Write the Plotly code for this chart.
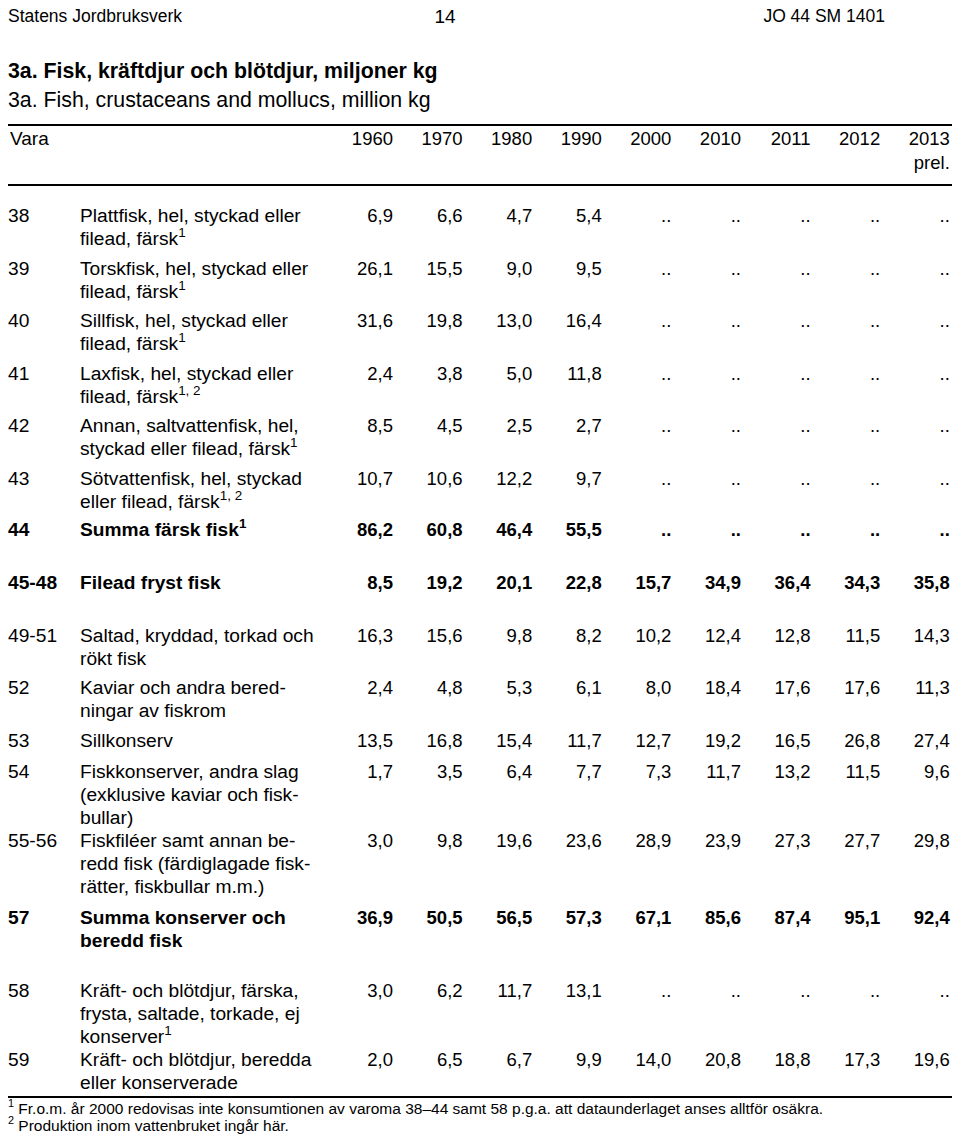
import plotly.graph_objects as go

# ---- data --------------------------------------------------------------
years = ["1960", "1970", "1980", "1990", "2000", "2010", "2011", "2012", "2013"]
prel_year = "2013"

codes = ["38", "39", "40", "41", "42", "43", "44", "45-48", "49-51",
         "52", "53", "54", "55-56", "57", "58", "59"]

labels = [
    "Plattfisk, hel, styckad eller<br>filead, färsk<sup>1</sup>",
    "Torskfisk, hel, styckad eller<br>filead, färsk<sup>1</sup>",
    "Sillfisk, hel, styckad eller<br>filead, färsk<sup>1</sup>",
    "Laxfisk, hel, styckad eller<br>filead, färsk<sup>1, 2</sup>",
    "Annan, saltvattenfisk, hel,<br>styckad eller filead, färsk<sup>1</sup>",
    "Sötvattenfisk, hel, styckad<br>eller filead, färsk<sup>1, 2</sup>",
    "Summa färsk fisk<sup>1</sup>",
    "Filead fryst fisk",
    "Saltad, kryddad, torkad och<br>rökt fisk",
    "Kaviar och andra bered-<br>ningar av fiskrom",
    "Sillkonserv",
    "Fiskkonserver, andra slag<br>(exklusive kaviar och fisk-<br>bullar)",
    "Fiskfiléer samt annan be-<br>redd fisk (färdiglagade fisk-<br>rätter, fiskbullar m.m.)",
    "Summa konserver och<br>beredd fisk",
    "Kräft- och blötdjur, färska,<br>frysta, saltade, torkade, ej<br>konserver<sup>1</sup>",
    "Kräft- och blötdjur, beredda<br>eller konserverade",
]

# None = ".." (uppgift saknas)
v1960 = [6.9, 26.1, 31.6, 2.4, 8.5, 10.7, 86.2, 8.5, 16.3, 2.4, 13.5, 1.7, 3.0, 36.9, 3.0, 2.0]
v1970 = [6.6, 15.5, 19.8, 3.8, 4.5, 10.6, 60.8, 19.2, 15.6, 4.8, 16.8, 3.5, 9.8, 50.5, 6.2, 6.5]
v1980 = [4.7, 9.0, 13.0, 5.0, 2.5, 12.2, 46.4, 20.1, 9.8, 5.3, 15.4, 6.4, 19.6, 56.5, 11.7, 6.7]
v1990 = [5.4, 9.5, 16.4, 11.8, 2.7, 9.7, 55.5, 22.8, 8.2, 6.1, 11.7, 7.7, 23.6, 57.3, 13.1, 9.9]
v2000 = [None, None, None, None, None, None, None, 15.7, 10.2, 8.0, 12.7, 7.3, 28.9, 67.1, None, 14.0]
v2010 = [None, None, None, None, None, None, None, 34.9, 12.4, 18.4, 19.2, 11.7, 23.9, 85.6, None, 20.8]
v2011 = [None, None, None, None, None, None, None, 36.4, 12.8, 17.6, 16.5, 13.2, 27.3, 87.4, None, 18.8]
v2012 = [None, None, None, None, None, None, None, 34.3, 11.5, 17.6, 26.8, 11.5, 27.7, 95.1, None, 17.3]
v2013 = [None, None, None, None, None, None, None, 35.8, 14.3, 11.3, 27.4, 9.6, 29.8, 92.4, None, 19.6]
values = [v1960, v1970, v1980, v1990, v2000, v2010, v2011, v2012, v2013]

bold_codes = ["44", "45-48", "57"]

footnotes = [
    "<sup>1</sup> Fr.o.m. år 2000 redovisas inte konsumtionen av varoma 38–44 samt 58 p.g.a. att dataunderlaget anses alltför osäkra.",
    "<sup>2</sup> Produktion inom vattenbruket ingår här.",
]

# ---- page layout (pixels of the page) ----------------------------------
# the html body has an 8px margin, so the figure starts at page pixel 8
FONT = "Liberation Sans, Arial, sans-serif"
W, H = 960, 1136
OFF = 8
line_h = 23
first_row_y = 215
gap_before = [0, 7, 6, 7, 6, 7, 5, 30, 30, 6, 7, 8, 0, 8, 27, 0]
nudge = 2  # text baseline correction
left_x = OFF
head_y = 16
code_x = 8
label_x = 80
col_right = [393 + 69.6 * i for i in range(len(years))]

row_y = []
y = first_row_y
for i, lab in enumerate(labels):
    y += gap_before[i]
    row_y.append(y)
    y += line_h * (lab.count("<br>") + 1)


def fmt(v):
    return ".." if v is None else f"{v:.1f}".replace(".", ",")


def bold(s, code):
    return f"<b>{s}</b>" if code in bold_codes else s


def text_trace(x, y, text, pos, size):
    return go.Scatter(x=x, y=[v + nudge for v in y], text=text, mode="text",
                      textposition=pos, hoverinfo="skip", cliponaxis=False,
                      textfont=dict(family=FONT, size=size, color="black"))


fig = go.Figure()

# page header and titles
fig.add_trace(text_trace([left_x], [head_y], ["Statens Jordbruksverk"], "middle right", 17.5))
fig.add_trace(text_trace([445], [head_y], ["14"], "middle center", 19))
fig.add_trace(text_trace([885], [head_y], ["JO 44 SM 1401"], "middle left", 17.5))
fig.add_trace(text_trace([left_x], [71], ["<b>3a. Fisk, kräftdjur och blötdjur, miljoner kg</b>"], "middle right", 21.3))
fig.add_trace(text_trace([left_x], [100], ["3a. Fish, crustaceans and mollucs, million kg"], "middle right", 21.3))

# column header
fig.add_trace(text_trace([10], [138], ["Vara"], "middle right", 19))
fig.add_trace(text_trace(col_right, [138] * len(years), years, "middle left", 18.5))
fig.add_trace(text_trace([col_right[years.index(prel_year)]], [162], ["prel."], "middle left", 18.5))

# row codes
fig.add_trace(text_trace([code_x] * len(codes), row_y,
                         [bold(c, c) for c in codes], "middle right", 19.2))

# labels, one point per printed line
lx, ly, lt = [], [], []
for code, lab, y0 in zip(codes, labels, row_y):
    for k, part in enumerate(lab.split("<br>")):
        lx.append(label_x)
        ly.append(y0 + k * line_h)
        lt.append(bold(part, code))
fig.add_trace(text_trace(lx, ly, lt, "middle right", 19.2))

# values, one trace per year column
for j, col in enumerate(values):
    fig.add_trace(text_trace([col_right[j]] * len(col), row_y,
                             [bold(fmt(v), c) for v, c in zip(col, codes)],
                             "middle left", 18.5))

# footnotes
fig.add_trace(text_trace([left_x, left_x], [1108, 1125], footnotes, "middle right", 15.5))

rules = [125, 185, 1097]
fig.update_layout(
    width=W - OFF, height=H - OFF,
    margin=dict(l=0, r=0, t=0, b=0),
    paper_bgcolor="white", plot_bgcolor="white",
    showlegend=False,
    xaxis=dict(range=[OFF, W], visible=False, fixedrange=True),
    yaxis=dict(range=[H, OFF], visible=False, fixedrange=True),
    shapes=[dict(type="line", xref="x", yref="y", x0=OFF, x1=958, y0=r, y1=r,
                 line=dict(color="black", width=2)) for r in rules],
)

fig.write_html("out.html")
